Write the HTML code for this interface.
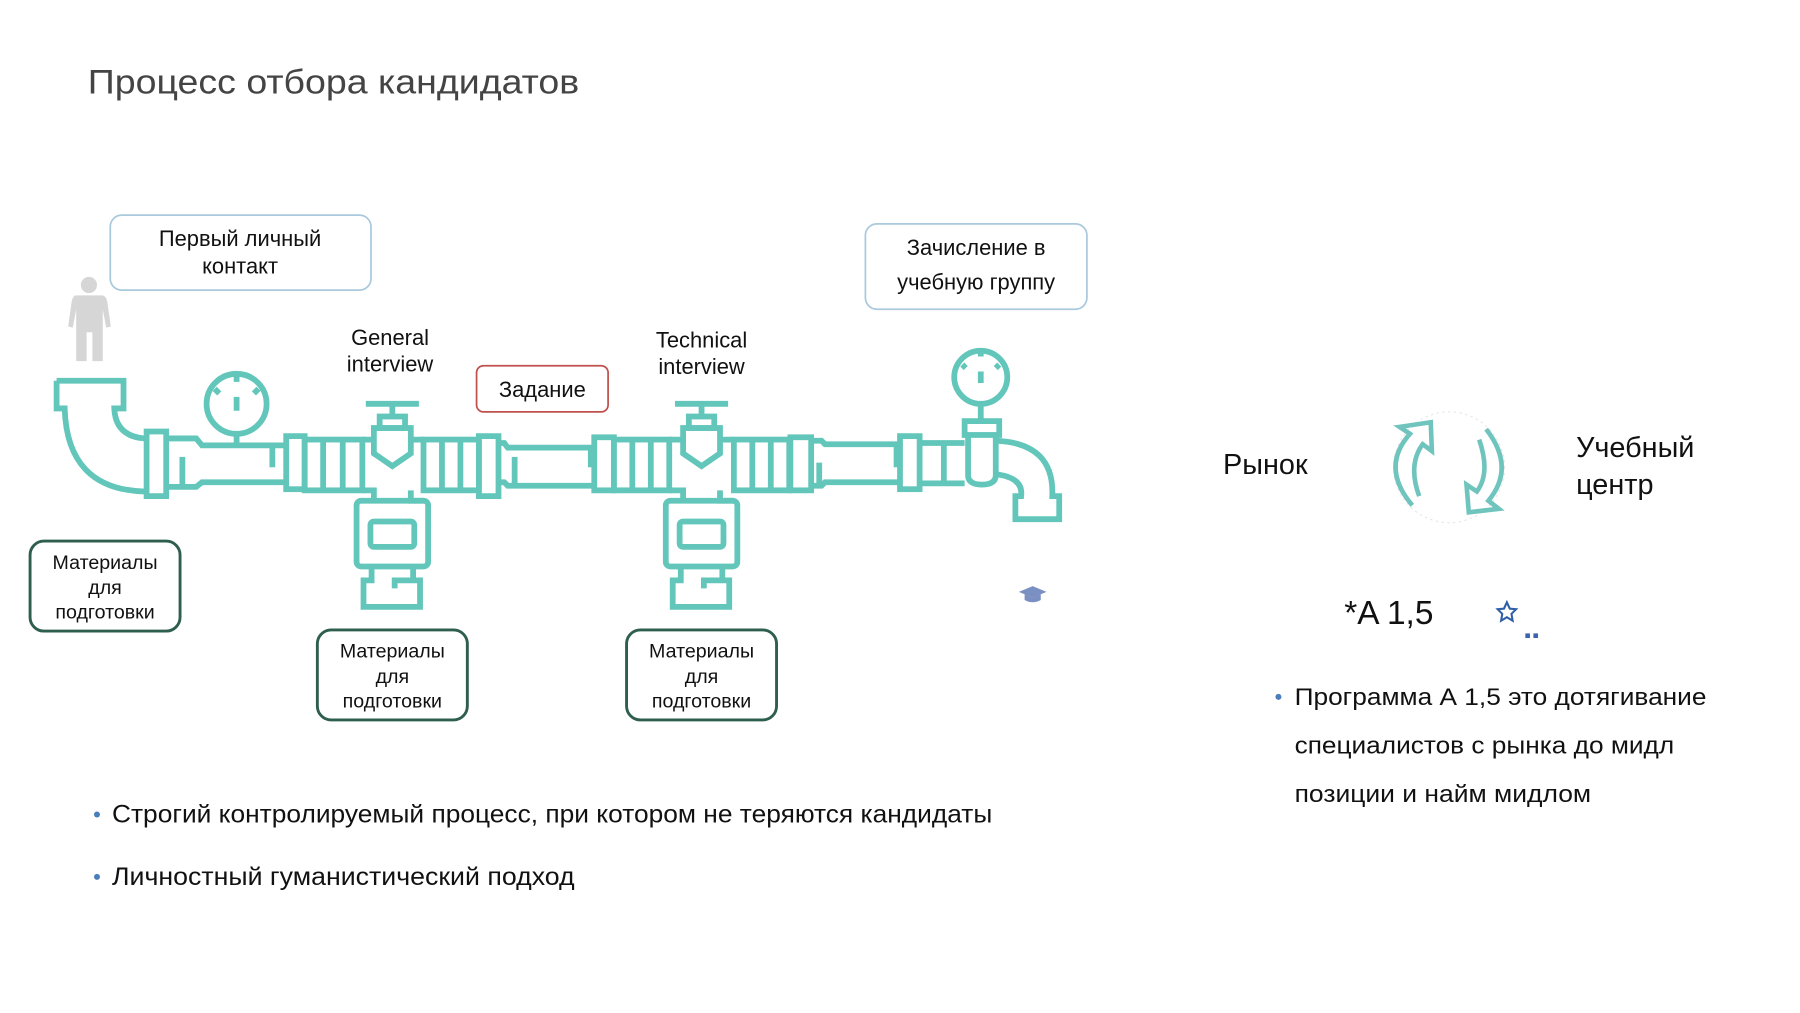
<!DOCTYPE html>
<html><head><meta charset="utf-8"><style>
html,body{margin:0;padding:0;background:#fff;}
svg{display:block;}
text{font-family:"Liberation Sans","DejaVu Sans",sans-serif;}
</style></head><body>
<svg width="1800" height="1013" viewBox="0 0 1560 878" xmlns="http://www.w3.org/2000/svg">
<rect width="1560" height="878" fill="#fff"/>
<text x="76" y="81" font-size="30" fill="#444" textLength="426" lengthAdjust="spacingAndGlyphs">Процесс отбора кандидатов</text>

<rect x="95.5" y="186.5" width="226" height="65" rx="10" fill="#fff" stroke="#a9c9dd" stroke-width="1.5"/>
<text x="208" y="213" font-size="19" text-anchor="middle" fill="#111">Первый личный</text>
<text x="208" y="237" font-size="19" text-anchor="middle" fill="#111">контакт</text>

<rect x="750" y="194" width="192" height="74" rx="10" fill="#fff" stroke="#a9c9dd" stroke-width="1.5"/>
<text x="846" y="221" font-size="19" text-anchor="middle" fill="#111">Зачисление в</text>
<text x="846" y="251" font-size="19" text-anchor="middle" fill="#111">учебную группу</text>

<rect x="413" y="317" width="114" height="40" rx="6" fill="#fff" stroke="#c0504d" stroke-width="1.5"/>
<text x="470" y="344" font-size="19" text-anchor="middle" fill="#111">Задание</text>

<text x="338" y="299" font-size="19" text-anchor="middle" fill="#111">General</text>
<text x="338" y="322" font-size="19" text-anchor="middle" fill="#111">interview</text>
<text x="608" y="301" font-size="19" text-anchor="middle" fill="#111">Technical</text>
<text x="608" y="324" font-size="19" text-anchor="middle" fill="#111">interview</text>

<g fill="#d6d6d6">
<circle cx="77" cy="247" r="7"/>
<path d="M66 256 H88 Q92 256 93 262 L96 283 L92 284 L89 268 L89 313 H80 V288 H75 V313 H66 V268 L63 284 L59 283 L62 262 Q63 256 66 256Z"/>
</g>

<g fill="none" stroke="#62c6ba" stroke-width="5" stroke-linejoin="miter">
<path d="M49 330 H107 V354 H99 Q100 378 125 380"/>
<path d="M49 330 V354 H56 Q58 424 125 426"/>
<rect x="127" y="374" width="17" height="56"/>
<path d="M144 380 H170 L175 386 H248"/>
<path d="M144 422 H170 L175 418 H248"/>
<line x1="158" y1="396" x2="158" y2="422"/>
<line x1="236" y1="386" x2="236" y2="405"/>
<circle cx="205" cy="350" r="26"/>
<line x1="205" y1="344" x2="205" y2="356" stroke-width="5"/>
<line x1="205" y1="376" x2="205" y2="386"/>
<line x1="186" y1="337" x2="190" y2="341"/><line x1="224" y1="337" x2="220" y2="341"/><line x1="205" y1="326" x2="205" y2="331"/>
<rect x="248" y="378" width="16" height="46"/>
<rect x="264" y="381" width="50" height="44"/>
<line x1="280" y1="381" x2="280" y2="425"/><line x1="297" y1="381" x2="297" y2="425"/>
<line x1="317" y1="350" x2="363" y2="350"/>
<line x1="340" y1="350" x2="340" y2="361"/>
<rect x="329" y="361" width="22" height="10"/>
<path d="M324 371 H356 V393 L340 404 L324 393Z"/>
<path d="M314 381 H324 M356 381 H367 M314 425 H324 V434 M356 425 V434 H367"/>
<rect x="309" y="434" width="62" height="57" rx="4"/>
<rect x="321" y="452" width="38" height="22" rx="3"/>
<path d="M322 491 V503 H315 V526 H364 V503 H342 V510"/>
<path d="M358 491 V503"/>
<rect x="367" y="381" width="48" height="44"/>
<line x1="383" y1="381" x2="383" y2="425"/><line x1="399" y1="381" x2="399" y2="425"/>
<rect x="415" y="378" width="17" height="52"/>
<path d="M432 384 H437 L440 388 H515"/>
<path d="M432 418 H437 L440 421 H515"/>
<line x1="446" y1="396" x2="446" y2="421"/>
<line x1="512" y1="388" x2="512" y2="405"/>
<rect x="515" y="379" width="17" height="46"/>
<rect x="532" y="381" width="48" height="44"/>
<line x1="548" y1="381" x2="548" y2="425"/><line x1="564" y1="381" x2="564" y2="425"/>
<line x1="585" y1="350" x2="631" y2="350"/>
<line x1="608" y1="350" x2="608" y2="361"/>
<rect x="597" y="361" width="22" height="10"/>
<path d="M592 371 H624 V393 L608 404 L592 393Z"/>
<path d="M580 381 H592 M624 381 H636 M580 425 H592 V434 M624 425 V434 H636"/>
<rect x="577" y="434" width="62" height="57" rx="4"/>
<rect x="589" y="452" width="38" height="22" rx="3"/>
<path d="M590 491 V503 H583 V526 H632 V503 H610 V510"/>
<path d="M626 491 V503"/>
<rect x="636" y="381" width="48" height="44"/>
<line x1="652" y1="381" x2="652" y2="425"/><line x1="668" y1="381" x2="668" y2="425"/>
<rect x="685" y="379" width="18" height="46"/>
<path d="M703 382 H712 L715 385 H780"/>
<path d="M703 421 H712 L715 418 H780"/>
<line x1="710" y1="401" x2="710" y2="421"/>
<line x1="777" y1="385" x2="777" y2="405"/>
<rect x="780" y="378" width="17" height="46"/>
<path d="M797 384 H836 M797 419 H836"/>
<line x1="818" y1="384" x2="818" y2="419"/>
<rect x="836" y="365" width="30" height="12"/>
<path d="M839 377 V412 Q839 420 851 420 Q863 420 863 412 V377"/>
<circle cx="850" cy="327" r="23"/>
<line x1="850" y1="322" x2="850" y2="332" stroke-width="5"/>
<line x1="850" y1="350" x2="850" y2="365"/>
<line x1="834" y1="316" x2="837" y2="319"/><line x1="866" y1="316" x2="863" y2="319"/><line x1="850" y1="304" x2="850" y2="309"/>
<path d="M863 382 Q914 384 912 430 H918 V450 H880 V430 H885 Q887 414 863 411"/>
</g>

<g fill="#7a8fc2">
<path d="M883 513 L895 508 L907 513 L895 518Z"/>
<path d="M888 515 V520 Q895 524 902 520 V515 L895 518Z"/>
</g>

<g fill="#fff" stroke="#2e5e4e" stroke-width="2.5">
<rect x="26" y="469" width="130" height="78" rx="12"/>
<rect x="275" y="546" width="130" height="78" rx="12"/>
<rect x="543" y="546" width="130" height="78" rx="12"/>
</g>
<g font-size="17" text-anchor="middle" fill="#111">
<text x="91" y="493">Материалы</text><text x="91" y="515">для</text><text x="91" y="536">подготовки</text>
<text x="340" y="570">Материалы</text><text x="340" y="592">для</text><text x="340" y="613">подготовки</text>
<text x="608" y="570">Материалы</text><text x="608" y="592">для</text><text x="608" y="613">подготовки</text>
</g>

<circle cx="84" cy="706" r="2.6" fill="#4a7ebb"/>
<text x="97" y="713" font-size="22" fill="#111" textLength="763" lengthAdjust="spacingAndGlyphs">Строгий контролируемый процесс, при котором не теряются кандидаты</text>
<circle cx="84" cy="760" r="2.6" fill="#4a7ebb"/>
<text x="97" y="767" font-size="22" fill="#111" textLength="401" lengthAdjust="spacingAndGlyphs">Личностный гуманистический подход</text>

<text x="1060" y="411" font-size="25" fill="#111">Рынок</text>
<text x="1366" y="396" font-size="25" fill="#111">Учебный</text>
<text x="1366" y="428" font-size="25" fill="#111">центр</text>
<circle cx="1256" cy="405" r="48" fill="none" stroke="#e6e6e6" stroke-width="1" stroke-dasharray="2 3"/>
<g fill="none" stroke="#6fc4bd" stroke-width="4" stroke-linejoin="miter">
<path d="M1224 438 Q1196 405 1222 376 L1213 370 L1240 366 L1241 391 L1233 385 Q1220 403 1230 430"/>
<path d="M1288 372 Q1314 405 1290 434 L1299 441 L1273 444 L1271 420 L1280 426 Q1292 410 1282 381"/>
</g>
<text x="1165" y="541" font-size="29" fill="#111">*A 1,5</text>
<path d="M1306 522 L1308.5 527.5 L1314 528 L1310 532 L1311 538 L1306 535 L1301 538 L1302 532 L1298 528 L1303.5 527.5Z" fill="none" stroke="#2e5fa8" stroke-width="1.8"/>
<rect x="1322" y="549" width="4" height="4" fill="#3b63b0"/><rect x="1329" y="549" width="4" height="4" fill="#3b63b0"/>
<circle cx="1108" cy="604" r="2.6" fill="#4a7ebb"/>
<text x="1122" y="611" font-size="21" fill="#111" textLength="357" lengthAdjust="spacingAndGlyphs">Программа А 1,5 это дотягивание</text>
<text x="1122" y="653" font-size="21" fill="#111" textLength="329" lengthAdjust="spacingAndGlyphs">специалистов с рынка до мидл</text>
<text x="1122" y="695" font-size="21" fill="#111" textLength="257" lengthAdjust="spacingAndGlyphs">позиции и найм мидлом</text>
</svg>
</body></html>
